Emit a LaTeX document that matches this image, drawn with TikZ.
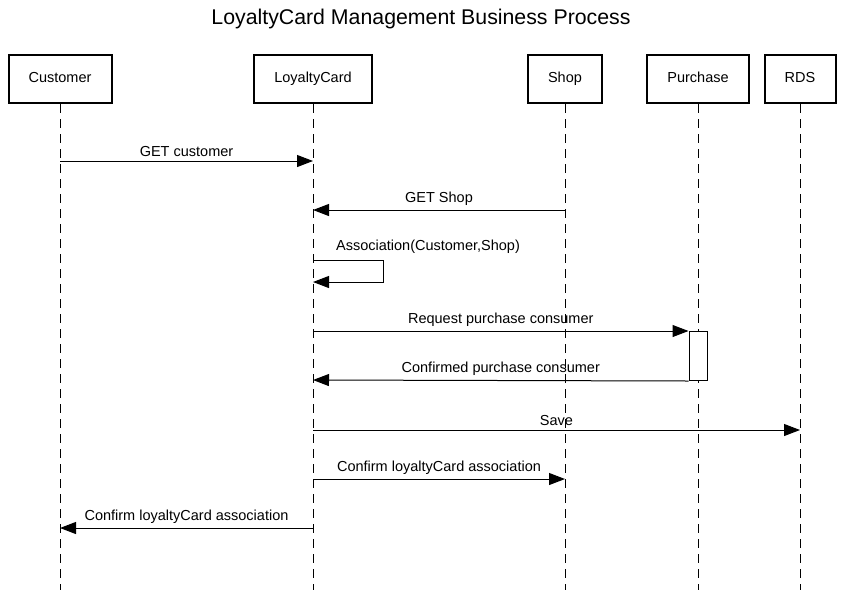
\documentclass[tikz,border=0pt]{standalone}
\usepackage{fontspec}
\setmainfont{Liberation Sans}
\usetikzlibrary{arrows.meta}

\begin{document}
\begin{tikzpicture}[x=1pt,y=-1pt,line width=1pt]
				\tikzstyle{every node}=[font=\fontsize{14.5}{17}\selectfont]
				\tikzstyle{actor}=[draw,line width=2pt,minimum height=48pt,inner sep=0pt,text height=10.5pt,text depth=3pt]
				\tikzstyle{life}=[dash pattern=on 9pt off 6pt]
				\tikzstyle{msg}=[-{Triangle[length=16pt,width=12pt]}]
				\tikzstyle{lbl}=[above=3pt,inner sep=1pt]
				\useasboundingbox (0,0) rectangle (843,590);
				\node (title) at (421,19) {\fontsize{21.3}{25}\selectfont LoyaltyCard Management Business Process};
				% actors
				\node[actor,minimum width=103pt] (cust) at (60,79) {Customer};
				\node[actor,minimum width=118pt] (card) at (313,79) {LoyaltyCard};
				\node[actor,minimum width=74pt] (shop) at (565,79) {Shop};
				\node[actor,minimum width=102pt] (purch) at (698,79) {Purchase};
				\node[actor,minimum width=71pt] (rds) at (800,79) {RDS};
				\coordinate (bot) at (0,590);
				\foreach \a in {cust,card,shop,purch,rds}
					\draw[life] (\a.south) -- (\a |- bot);
				% message rows
				\coordinate (r1) at (0,161);
				\coordinate (r2) at (0,210);
				\coordinate (r3) at (0,260);
				\coordinate (r4) at (0,282);
				\coordinate (r5) at (0,331);
				\coordinate (r6) at (0,380);
				\coordinate (r7) at (0,430);
				\coordinate (r8) at (0,479);
				\coordinate (r9) at (0,528);
				\node[draw,fill=white,minimum width=18pt,minimum height=49pt,inner sep=0pt,anchor=north] (act) at (purch |- r5) {};
				\draw[msg] (cust |- r1) -- node[lbl] {GET customer} (card |- r1);
				\draw[msg] (shop |- r2) -- node[lbl] {GET Shop} (card |- r2);
				\draw[msg] (card |- r3) -- ++(70,0) coordinate (selfr) -- (selfr |- r4) -- (card |- r4);
				\node (assoc) at (428,247) {Association(Customer,Shop)};
				\draw[msg] (card |- r5) -- node[lbl] {Request purchase consumer} (act.north west);
				\draw[msg] (act.south west) -- node[lbl] {Confirmed purchase consumer} (card |- r6);
				\draw[msg] (card |- r7) -- node[lbl] {Save} (rds |- r7);
				\draw[msg] (card |- r8) -- node[lbl] {Confirm loyaltyCard association} (shop |- r8);
				\draw[msg] (card |- r9) -- node[lbl] {Confirm loyaltyCard association} (cust |- r9);
\end{tikzpicture}
\end{document}
